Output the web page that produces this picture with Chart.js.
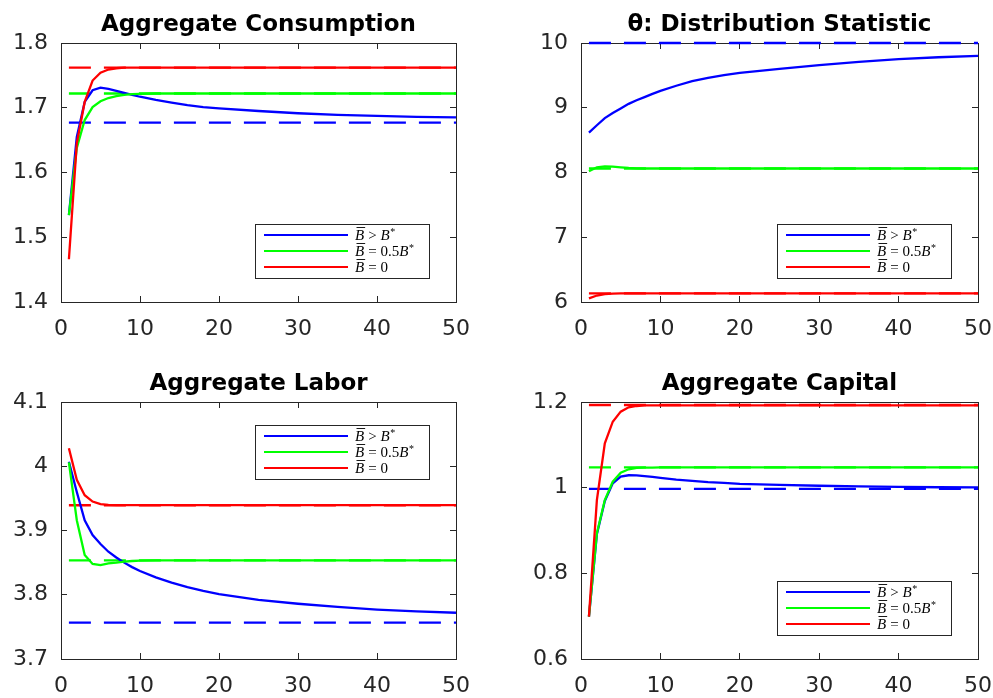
<!DOCTYPE html>
<html>
<head>
<meta charset="utf-8">
<script src="https://cdn.jsdelivr.net/npm/chart.js@4.4.1/dist/chart.umd.min.js"></script>
<style>
html, body { margin: 0; padding: 0; background: #fff; }
body { width: 993px; height: 698px; position: relative; overflow: hidden; }
.panel { position: absolute; }
</style>
</head>
<body>
<div class="panel" style="left:0;top:0;width:480px;height:345px"><canvas id="c1"></canvas></div>
<div class="panel" style="left:500px;top:0;width:493px;height:345px"><canvas id="c2"></canvas></div>
<div class="panel" style="left:0;top:359px;width:480px;height:339px"><canvas id="c3"></canvas></div>
<div class="panel" style="left:500px;top:359px;width:493px;height:339px"><canvas id="c4"></canvas></div>
<script>
// periods (x axis)
const periods = [1, 2, 3, 4, 5, 6, 7, 8, 9, 10, 12, 14, 16, 18, 20, 25, 30, 35, 40, 45, 50];

const legendLabels = ["B\u0305 > B*", "B\u0305 = 0.5B*", "B\u0305 = 0"];
const seriesColors = ["#0000ff", "#00ff00", "#ff0000"];

// Aggregate Consumption
const consBlue  = [1.534, 1.655, 1.709, 1.727, 1.731, 1.729, 1.726, 1.723, 1.720, 1.717, 1.712, 1.708, 1.704, 1.701, 1.699, 1.695, 1.6915, 1.689, 1.6875, 1.686, 1.685];
const consGreen = [1.534, 1.638, 1.681, 1.701, 1.710, 1.715, 1.718, 1.720, 1.721, 1.7215, 1.722, 1.722, 1.722, 1.722, 1.722, 1.722, 1.722, 1.722, 1.722, 1.722, 1.722];
const consRed   = [1.466, 1.645, 1.709, 1.742, 1.754, 1.759, 1.761, 1.762, 1.762, 1.762, 1.762, 1.762, 1.762, 1.762, 1.762, 1.762, 1.762, 1.762, 1.762, 1.762, 1.762];
const consSS    = [1.677, 1.722, 1.762];

// theta: distribution statistic
const thetaBlue  = [8.615, 8.73, 8.84, 8.92, 8.99, 9.06, 9.115, 9.165, 9.215, 9.26, 9.34, 9.41, 9.46, 9.505, 9.54, 9.60, 9.657, 9.71, 9.75, 9.78, 9.80];
const thetaGreen = [8.02, 8.08, 8.095, 8.09, 8.08, 8.07, 8.065, 8.062, 8.062, 8.062, 8.062, 8.062, 8.062, 8.062, 8.062, 8.062, 8.062, 8.062, 8.062, 8.062, 8.062];
const thetaRed   = [6.055, 6.10, 6.122, 6.13, 6.133, 6.134, 6.134, 6.134, 6.134, 6.134, 6.134, 6.134, 6.134, 6.134, 6.134, 6.134, 6.134, 6.134, 6.134, 6.134, 6.134];
const thetaSS    = [10, 8.062, 6.134];

// Aggregate Labor
const laborBlue  = [4.007, 3.960, 3.916, 3.893, 3.879, 3.867, 3.858, 3.850, 3.843, 3.837, 3.827, 3.819, 3.812, 3.806, 3.801, 3.792, 3.786, 3.781, 3.777, 3.774, 3.772];
const laborGreen = [4.006, 3.916, 3.862, 3.848, 3.846, 3.849, 3.850, 3.8517, 3.8525, 3.853, 3.8535, 3.8536, 3.8536, 3.8536, 3.8536, 3.8536, 3.8536, 3.8536, 3.8536, 3.8536, 3.8536];
const laborRed   = [4.028, 3.979, 3.955, 3.945, 3.941, 3.940, 3.9395, 3.9395, 3.9395, 3.9395, 3.9395, 3.9395, 3.9395, 3.9395, 3.9395, 3.9395, 3.9395, 3.9395, 3.9395, 3.9395, 3.9395];
const laborSS    = [3.7565, 3.8536, 3.9393];

// Aggregate Capital
const capBlue  = [0.699, 0.891, 0.969, 1.010, 1.026, 1.029, 1.0286, 1.027, 1.025, 1.023, 1.019, 1.016, 1.013, 1.011, 1.009, 1.0065, 1.0045, 1.003, 1.002, 1.001, 1.0005];
const capGreen = [0.699, 0.8935, 0.971, 1.014, 1.035, 1.043, 1.046, 1.0468, 1.047, 1.0473, 1.0475, 1.0475, 1.0475, 1.0475, 1.0475, 1.0475, 1.0475, 1.0475, 1.0475, 1.0475, 1.0475];
const capRed   = [0.699, 0.971, 1.1036, 1.154, 1.1775, 1.1877, 1.1907, 1.192, 1.1922, 1.1923, 1.1923, 1.1923, 1.1923, 1.1923, 1.1923, 1.1923, 1.1923, 1.1923, 1.1923, 1.1923, 1.1923];
const capSS    = [0.997, 1.0475, 1.193];

const axisColor = "#262626";
Chart.defaults.font.family = "'DejaVu Sans', sans-serif";
Chart.defaults.color = axisColor;

// TeX-like label: B followed by U+0305 gets a bar, * is raised
function drawMathLabel(ctx, text, x, y) {
    const chars = Array.from(text);
    let cx = x;
    for (let i = 0; i < chars.length; i++) {
        const ch = chars[i];
        if (ch === "\u0305") continue;
        if (ch === " ") { cx += 4; continue; }
        if (ch === "*") {
            ctx.font = "10px 'Liberation Serif'";
            ctx.fillText("*", cx + 0.5, y - 5);
            cx += ctx.measureText("*").width + 1;
            continue;
        }
        const letter = /[A-Za-z]/.test(ch);
        ctx.font = (letter ? "italic " : "") + "15px 'Liberation Serif'";
        ctx.fillText(ch, cx, y);
        const w = ctx.measureText(ch).width;
        if (chars[i + 1] === "\u0305") {
            ctx.beginPath();
            ctx.lineWidth = 0.9;
            ctx.strokeStyle = "#000";
            ctx.moveTo(cx + 1.5, y - 12.5);
            ctx.lineTo(cx + w + 1, y - 12.5);
            ctx.stroke();
        }
        cx += w;
    }
}

const insideLegend = {
    id: "insideLegend",
    afterDatasetsDraw(chart, args, opts) {
        const ctx = chart.ctx;
        const a = chart.chartArea;
        const w = 174, h = 54;
        const x = Math.round(a.right - 27 - w);
        const y = Math.round(opts.corner === "top" ? a.top + 23 : a.bottom - 24 - h);
        ctx.save();
        ctx.fillStyle = "#fff";
        ctx.fillRect(x, y, w, h);
        ctx.strokeStyle = axisColor;
        ctx.lineWidth = 1;
        ctx.strokeRect(x + 0.5, y + 0.5, w, h);
        chart.data.datasets.slice(0, 3).forEach((ds, i) => {
            const ry = y + 11 + i * 16;
            ctx.beginPath();
            ctx.strokeStyle = ds.borderColor;
            ctx.lineWidth = 2.2;
            ctx.moveTo(x + 9, ry);
            ctx.lineTo(x + 93, ry);
            ctx.stroke();
            ctx.fillStyle = "#000";
            ctx.textBaseline = "alphabetic";
            drawMathLabel(ctx, ds.label, x + 100, ry + 5);
        });
        ctx.restore();
    }
};

function fixedSize(prop, size) {
    return function (scale) {
        scale[prop] = size;
        scale.paddingLeft = 0;
        scale.paddingRight = 0;
        scale.paddingTop = 0;
        scale.paddingBottom = 0;
    };
}

function tickGrid() {
    return { drawOnChartArea: false, drawTicks: true, tickLength: -6, color: axisColor, lineWidth: 1 };
}

// MATLAB style: 1 instead of 1.0
function plainTick(value) {
    return String(Number(value.toFixed(3)));
}

function makePanel(id, title, series, ss, yMin, yMax, yStep, yAxisW, padRight, xAxisH, corner) {
    const datasets = [];
    series.forEach((vals, i) => {
        datasets.push({
            label: legendLabels[i],
            data: periods.map((p, j) => ({ x: p, y: vals[j] })),
            borderColor: seriesColors[i],
            borderWidth: 2.3,
            pointRadius: 0,
            tension: 0,
            clip: false,
            order: 3 - i
        });
    });
    ss.forEach((v, i) => {
        datasets.push({
            label: "ss",
            data: [{ x: periods[0], y: v }, { x: periods[periods.length - 1], y: v }],
            borderColor: seriesColors[i],
            borderWidth: 2.3,
            borderDash: [22, 13],
            pointRadius: 0,
            clip: false,
            order: 6 - i
        });
    });

    new Chart(document.getElementById(id), {
        type: "line",
        data: { datasets: datasets },
        options: {
            responsive: true,
            maintainAspectRatio: false,
            animation: false,
            layout: { padding: { left: 0, right: padRight, top: 0, bottom: 0 } },
            plugins: {
                legend: { display: false },
                tooltip: { enabled: false },
                title: {
                    display: true,
                    text: title,
                    fullSize: false,
                    color: "#000",
                    font: { size: 23, weight: "bold", lineHeight: 1.2 },
                    padding: { top: 11, bottom: 4.4 }
                },
                insideLegend: { corner: corner }
            },
            scales: {
                x: {
                    type: "linear", position: "bottom", min: 0, max: 50,
                    ticks: { stepSize: 10, font: { size: 22 }, padding: 20, maxRotation: 0 },
                    grid: tickGrid(),
                    border: { display: true, color: axisColor, width: 1 },
                    afterFit: fixedSize("height", xAxisH)
                },
                x2: {
                    type: "linear", position: "top", min: 0, max: 50,
                    ticks: { stepSize: 10, display: false },
                    grid: tickGrid(),
                    border: { display: true, color: axisColor, width: 1 },
                    afterFit: fixedSize("height", 0)
                },
                y: {
                    type: "linear", position: "left", min: yMin, max: yMax,
                    ticks: { stepSize: yStep, font: { size: 22 }, padding: 19, callback: plainTick },
                    grid: tickGrid(),
                    border: { display: true, color: axisColor, width: 1 },
                    afterFit: fixedSize("width", yAxisW)
                },
                y2: {
                    type: "linear", position: "right", min: yMin, max: yMax,
                    ticks: { stepSize: yStep, display: false },
                    grid: tickGrid(),
                    border: { display: true, color: axisColor, width: 1 },
                    afterFit: fixedSize("width", 0)
                }
            }
        },
        plugins: [insideLegend]
    });
}

makePanel("c1", "Aggregate Consumption", [consBlue, consGreen, consRed], consSS, 1.4, 1.8, 0.1, 61, 24, 43, "bottom");
makePanel("c2", "\u03B8: Distribution Statistic", [thetaBlue, thetaGreen, thetaRed], thetaSS, 6, 10, 1, 81, 15, 43, "bottom");
makePanel("c3", "Aggregate Labor", [laborBlue, laborGreen, laborRed], laborSS, 3.7, 4.1, 0.1, 61, 24, 39, "top");
makePanel("c4", "Aggregate Capital", [capBlue, capGreen, capRed], capSS, 0.6, 1.2, 0.2, 81, 15, 39, "bottom");
</script>
</body>
</html>
